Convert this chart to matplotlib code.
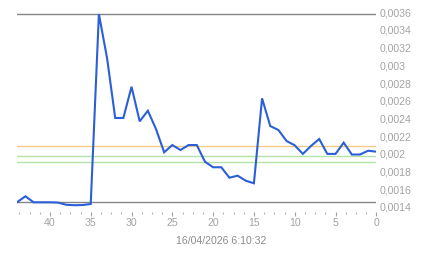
import matplotlib
matplotlib.use("Agg")
import matplotlib.pyplot as plt
from matplotlib.ticker import MultipleLocator, FixedLocator

# ---- data ----
x_units = list(range(44, -1, -1))
prices = [0.001456, 0.001521, 0.001453, 0.001453, 0.001453, 0.001450, 0.001425,
          0.001420, 0.001422, 0.001434, 0.003580, 0.003084, 0.002406, 0.002406,
          0.002759, 0.002368, 0.002488, 0.002281, 0.002018, 0.002100, 0.002044,
          0.002100, 0.002100, 0.001912, 0.001849, 0.001849, 0.001731, 0.001754,
          0.001697, 0.001668, 0.002628, 0.002315, 0.002270, 0.002146, 0.002097,
          0.002000, 0.002090, 0.002168, 0.002000, 0.002000, 0.002127, 0.001993,
          0.001993, 0.002036, 0.002025]
high_line = 0.00358
base_line = 0.001453
orange_level = 0.002086
green_levels = [0.001973, 0.001905]

y_ticks = [0.0014, 0.0016, 0.0018, 0.0020, 0.0022, 0.0024, 0.0026, 0.0028,
           0.0030, 0.0032, 0.0034, 0.0036]
y_labels = ["0,0014", "0,0016", "0,0018", "0,002", "0,0022", "0,0024", "0,0026",
            "0,0028", "0,003", "0,0032", "0,0034", "0,0036"]
x_ticks = [40, 35, 30, 25, 20, 15, 10, 5, 0]
x_labels = ["40", "35", "30", "25", "20", "15", "10", "5", "0"]
date_label = "16/04/2026 6:10:32"

plt.rcParams['font.family'] = ['Liberation Sans', 'DejaVu Sans']

W, H = 443, 258
fig = plt.figure(figsize=(W / 100, H / 100), dpi=100)
left_px, right_px = 17.3, 376.3
top_px, bot_px = 12.3, 207.0
ax = fig.add_axes([left_px / W, 1 - bot_px / H, (right_px - left_px) / W, (bot_px - top_px) / H])

ax.set_xlim(44, 0)
ax.set_ylim(0.0014, 0.0036)

ax.axhline(high_line, color="#858585", lw=1.0, zorder=1)
ax.axhline(base_line, color="#858585", lw=1.0, zorder=1)
ax.axhline(orange_level, color="#f2cc80", lw=1.0, zorder=1)
for g in green_levels:
    ax.axhline(g, color="#b4e3a8", lw=1.0, zorder=1)

ax.plot(x_units, prices, color="#2b5fd9", lw=1.5, zorder=3, solid_joinstyle="miter")

for s in ax.spines.values():
    s.set_visible(False)
ax.spines['bottom'].set_position(('outward', 3.3))

ax.yaxis.tick_right()
ax.yaxis.set_major_locator(FixedLocator(y_ticks))
ax.set_yticklabels(y_labels)
ax.tick_params(axis='y', length=0, pad=2.6, labelsize=7.6, labelcolor="#a3a3a3")

ax.xaxis.set_major_locator(FixedLocator(x_ticks))
ax.set_xticklabels(x_labels)
ax.xaxis.set_minor_locator(MultipleLocator(1.25))
ax.tick_params(axis='x', which='major', direction='out', length=3.0, width=0.8,
               color="#a0a0a0", pad=1.5, labelsize=7.6, labelcolor="#a3a3a3")
ax.tick_params(axis='x', which='minor', direction='out', length=1.2, width=0.8,
               color="#b0b0b0")

fig.text(0.5, 1 - 241 / H, date_label, ha="center", va="center",
         fontsize=7.6, color="#8c8c8c")

fig.savefig("out.png", dpi=100)
